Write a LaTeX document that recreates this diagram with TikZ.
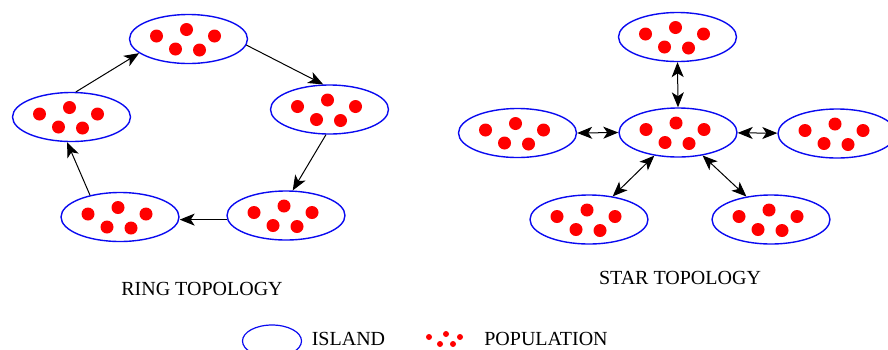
\documentclass[tikz,border=0pt]{standalone}
\usepackage{fontspec}
\setmainfont{Liberation Serif}
\usetikzlibrary{shapes.geometric,arrows.meta}
\tikzset{
  island/.style={ellipse, draw=islandblue, line width=1.4pt, minimum width=118pt, minimum height=49pt, inner sep=0pt},
  conn/.style={line width=1pt, -{Stealth[length=15pt,width=12pt,inset=4pt]}},
  bconn/.style={line width=1pt, {Stealth[length=15pt,width=12pt,inset=4pt]}-{Stealth[length=15pt,width=12pt,inset=4pt]}},
  lbl/.style={font=\fontsize{20}{24}\selectfont, inner sep=0pt, anchor=base}
}
\definecolor{islandblue}{RGB}{10,10,240}
\definecolor{popred}{RGB}{255,0,0}
\newcommand\popfill[1]{%
  \begin{scope}[shift={(#1.center)}]
    \foreach \p in {(-32,-3),(-2,-9.5),(26,-3),(-13,10),(11,11)}
      \fill[popred] \p circle (6.5pt);
  \end{scope}}
\begin{document}
\begin{tikzpicture}[x=1pt,y=-1pt]
\useasboundingbox (0,0) rectangle (888,349);
\clip (0,0) rectangle (888,349);
% ring topology
\node[island] (rt) at (188.5,39) {};
\node[island] (rr) at (329.5,109.5) {};
\node[island] (rbr) at (286,215.5) {};
\node[island] (rbl) at (120,217) {};
\node[island] (rl) at (71.5,117) {};
\foreach \n in {rt,rr,rbr,rbl,rl} {\popfill{\n}}
\draw[conn] (rt.-6) -- (rr.104);
\draw[conn] (rr.262) -- (rbr.75);
\draw[conn] (rbr.184) -- (rbr.184 -| rbl.east);
\draw[conn] (rbl.144) -- (rl.260);
\draw[conn] (rl.80) -- (rt.196);
% star topology
\node[island] (sc) at (678,132.5) {};
\node[island] (st) at (677.5,37) {};
\node[island] (sl) at (517.5,133) {};
\node[island] (sr) at (837,133.5) {};
\node[island] (sbl) at (589,219.5) {};
\node[island] (sbr) at (771,219.5) {};
\foreach \n in {sc,st,sl,sr,sbl,sbr} {\popfill{\n}}
\draw[bconn] (st.south) -- (sc.north);
\draw[bconn] (sl.east) -- (sc.west);
\draw[bconn] (sc) -- (sr);
\draw[bconn] (sc) -- (sbl);
\draw[bconn] (sc) -- (sbr);
% labels
\node[lbl] (ringlbl) at (202,295.5) {RING TOPOLOGY};
\node[lbl] (starlbl) at (680,284) {STAR TOPOLOGY};
% legend
\node[ellipse, draw=islandblue, line width=1.2pt, minimum width=59pt, minimum height=32pt, inner sep=0pt] (legisland) at (272,341) {};
\node[lbl] (legislandtxt) at (348.5,345) {ISLAND};
\begin{scope}[shift={(445,339)}]
  \foreach \p in {(-16,-2),(1,-5),(15,-2),(-5,5),(8,5)}
    \fill[popred] \p circle (3pt);
\end{scope}
\node[lbl] (legpoptxt) at (546,345) {POPULATION};
\end{tikzpicture}
\end{document}
